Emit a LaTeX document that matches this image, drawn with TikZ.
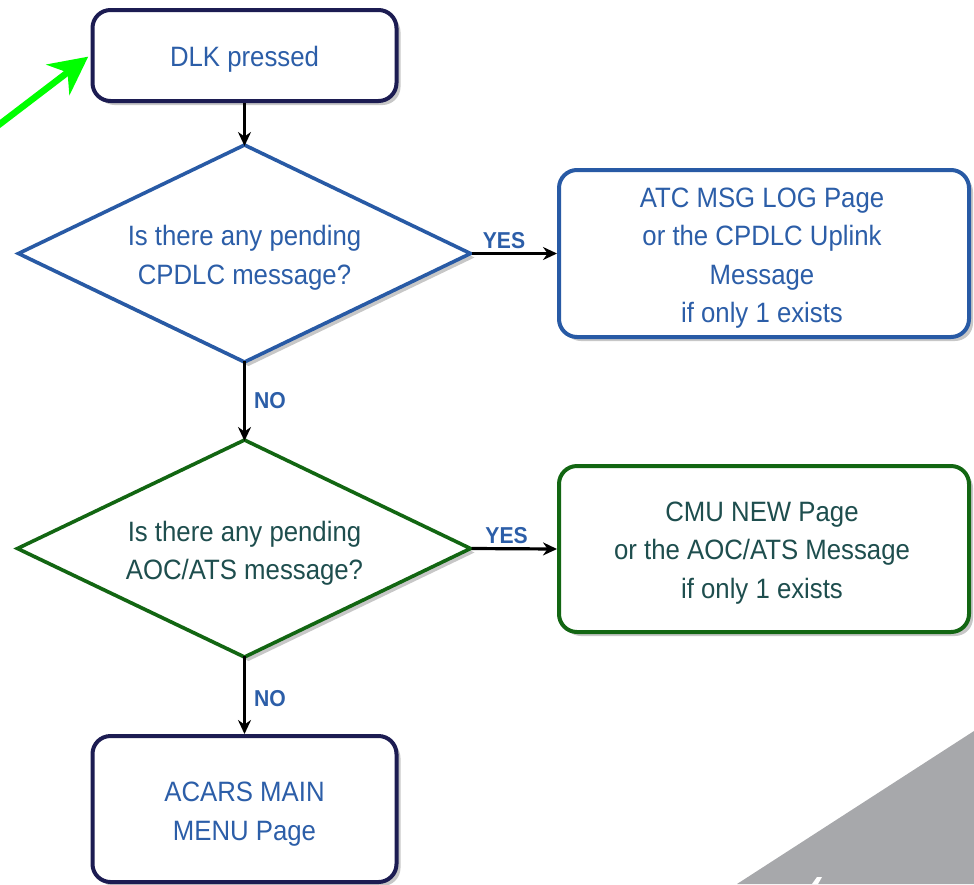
\documentclass[tikz,border=0pt]{standalone}
\usepackage{fontspec}
\setmainfont{Liberation Sans}[FakeStretch=0.92]
\usetikzlibrary{arrows.meta,shadows}
\definecolor{navy}{RGB}{28,28,82}
\definecolor{bblue}{RGB}{40,90,165}
\definecolor{tblue}{RGB}{44,94,168}
\definecolor{dgreen}{RGB}{18,102,18}
\definecolor{teal}{RGB}{30,78,78}
\definecolor{bgray}{RGB}{167,168,171}
\definecolor{lime}{RGB}{0,255,0}
\begin{document}
\begin{tikzpicture}[x=1pt,y=-1pt,
  txt/.style={font=\fontsize{28pt}{38.5pt}\selectfont, align=center, inner sep=0pt},
  shad/.style={drop shadow={shadow xshift=4pt,shadow yshift=-4pt,fill=black!22,opacity=1}},
  rbox/.style={rectangle, rounded corners=18pt, draw, line width=4pt, fill=white, shad, inner sep=0pt},
  diashape/.style={draw, line width=3.6pt, fill=white, shad, line join=miter},
  conn/.style={-{Stealth[length=14pt,width=13pt]}, line width=3.2pt, black},
  lbl/.style={font=\fontsize{23pt}{26pt}\selectfont\bfseries, text=tblue, inner sep=2pt},
  garrow/.style={-{Stealth[length=38pt,width=38pt,inset=12pt]}, line width=6.5pt, lime}
]
\useasboundingbox (0,0) rectangle (974,884);
% background grey shape
\fill[bgray] (737,884) -- (974,731) -- (974,884) -- cycle;
\fill[white] (812,884) -- (817,877) -- (822,877) -- (818,884) -- cycle;

% start box
\node[rbox, draw=navy, minimum width=304pt, minimum height=91pt] (dlk) at (244.5,55.5) {};
\node[txt, text=tblue] (dlkt) at (244.5,59) {DLK pressed};

% decision 1
\coordinate (q1n) at (244.5,145);
\coordinate (q1e) at (470.5,253.5);
\coordinate (q1s) at (244.5,362);
\coordinate (q1w) at (18.5,253.5);
\path[diashape, draw=bblue] (q1n) -- (q1e) -- (q1s) -- (q1w) -- cycle;
\node[txt, text=tblue] (q1) at (244.5,258) {Is there any pending\\CPDLC message?};

% result 1
\node[rbox, draw=bblue, minimum width=410pt, minimum height=167pt] (atc) at (764,253.5) {};
\node[txt, text=tblue] (atct) at (762,258) {ATC MSG LOG Page\\or the CPDLC Uplink\\Message\\if only 1 exists};

% decision 2
\coordinate (q2n) at (244.5,440);
\coordinate (q2e) at (470.5,548.5);
\coordinate (q2s) at (244.5,657);
\coordinate (q2w) at (17.5,548.5);
\path[diashape, draw=dgreen] (q2n) -- (q2e) -- (q2s) -- (q2w) -- cycle;
\node[txt, text=teal] (q2) at (244.5,553) {Is there any pending\\AOC/ATS message?};

% result 2
\node[rbox, draw=dgreen, minimum width=410pt, minimum height=166pt] (cmu) at (764,549) {};
\node[txt, text=teal] (cmut) at (762,553) {CMU NEW Page\\or the AOC/ATS Message\\if only 1 exists};

% end box
\node[rbox, draw=navy, minimum width=304pt, minimum height=146pt] (acars) at (244.5,809) {};
\node[txt, text=tblue] (acarst) at (244.5,814) {ACARS MAIN\\MENU Page};

\draw[conn] (dlk.south) -- ([yshift=-1pt]q1n);
\draw[conn] ([xshift=1pt]q1e) -- node[lbl, pos=0.38, above=1pt] {YES} (atc.west);
\draw[conn] ([yshift=1pt]q1s) -- node[lbl, pos=0.5, right=6pt] {NO} ([yshift=-1pt]q2n);
\draw[conn] ([xshift=1pt]q2e) -- node[lbl, pos=0.41, above=1pt] {YES} (cmu.west);
\draw[conn] ([yshift=1pt]q2s) -- node[lbl, pos=0.55, right=6pt] {NO} (acars.north);

\coordinate (gs) at (-4,127);
\coordinate (gt) at (93,53);
\draw[garrow, shorten >=6pt] (gs) -- (gt);
\end{tikzpicture}
\end{document}
